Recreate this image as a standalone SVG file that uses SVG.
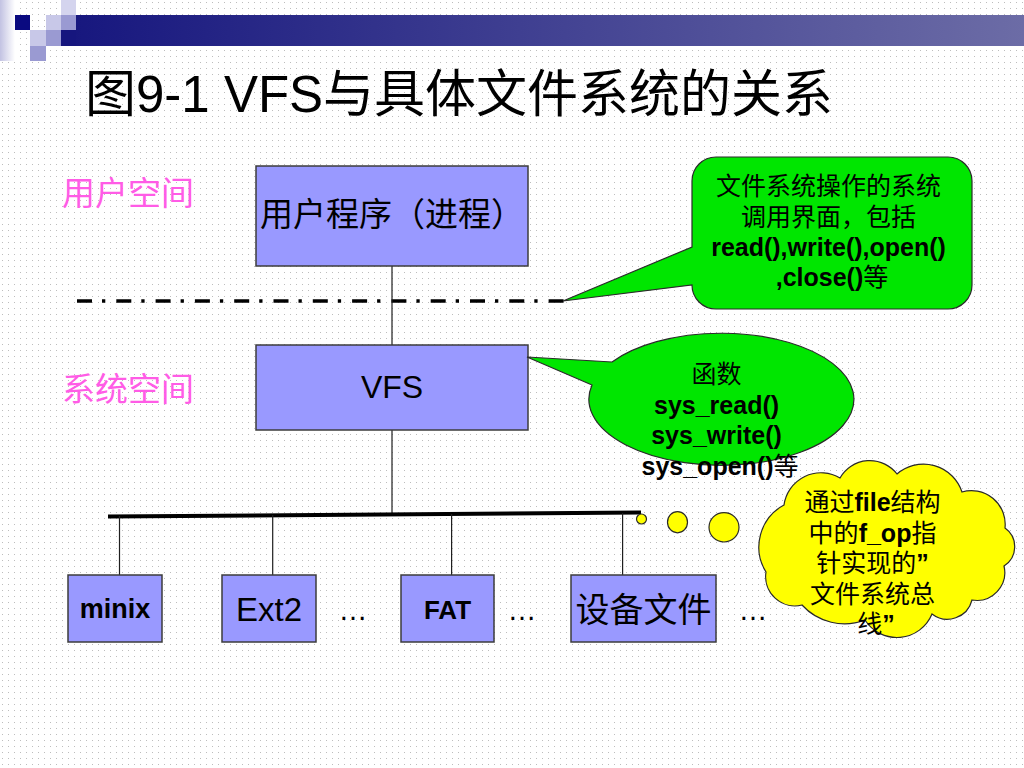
<svg xmlns="http://www.w3.org/2000/svg" width="1024" height="768" viewBox="0 0 1024 768">
<defs>
  <pattern id="dots" width="6" height="6" patternUnits="userSpaceOnUse">
    <rect x="2" y="2" width="1" height="1" fill="#bdbdbd"/>
  </pattern>
  <linearGradient id="barGrad" gradientUnits="userSpaceOnUse" x1="61" y1="0" x2="1024" y2="0">
    <stop offset="0" stop-color="#16167e"/>
    <stop offset="1" stop-color="#6c6ca6"/>
  </linearGradient>
  <linearGradient id="stripGrad" x1="0" y1="0" x2="1" y2="0">
    <stop offset="0" stop-color="#c2c2e2"/>
    <stop offset="1" stop-color="#ffffff"/>
  </linearGradient>
  <style>
    .box{fill:#9999ff;stroke:#3c3c3c;stroke-width:1.5}
    .callout{stroke:#2a2a2a;stroke-width:1.2}
    .green{fill:#00e600}
    .yellow{fill:#ffff00}
    .t{font-family:'Liberation Sans','Noto Sans CJK SC',sans-serif;fill:#000}
    .b{font-weight:bold}
    .pink{fill:#ff5ce6;font-size:33px}
    .wire{stroke:#1e1e1e;stroke-width:1.2;fill:none}
    .mid{text-anchor:middle}
  </style>
</defs>

<!-- background -->
<rect x="0" y="0" width="1024" height="768" fill="#ffffff"/>
<rect x="0" y="0" width="1024" height="768" fill="url(#dots)"/>

<!-- top-left decoration -->
<g id="decoration">
  <rect x="0" y="0" width="15" height="61" fill="url(#stripGrad)"/>
  <rect x="76" y="15" width="948" height="31" fill="url(#barGrad)"/>
  <rect x="61" y="30" width="15" height="16" fill="#16167e"/>
  <rect x="15" y="15" width="15" height="15" fill="#0a0a80"/>
  <rect x="46" y="15" width="15" height="15" fill="#c8c8e8"/>
  <rect x="61" y="0" width="15" height="15" fill="#d4d4ee"/>
  <rect x="61" y="15" width="15" height="15" fill="#9a9ad2"/>
  <rect x="30" y="30" width="16" height="16" fill="#c8c8e8"/>
  <rect x="46" y="30" width="15" height="16" fill="#9a9ad2"/>
  <rect x="30" y="46" width="16" height="15" fill="#9a9ad2"/>
</g>

<!-- title -->
<text id="title" class="t" x="85" y="112" font-size="51">图9-1 VFS与具体文件系统的关系</text>

<!-- side labels -->
<text id="label-user" class="t pink" x="62" y="205" style="fill:#ff5ce6">用户空间</text>
<text id="label-sys" class="t pink" x="62" y="401" style="fill:#ff5ce6">系统空间</text>

<!-- separator -->
<g id="separator">
  <line x1="77" y1="301" x2="565" y2="301" stroke="#000" stroke-width="3.3" stroke-dasharray="15 10 3.3 11"/>
</g>

<!-- connectors -->
<g id="connectors">
  <line class="wire" x1="392" y1="266" x2="392" y2="345"/>
  <line class="wire" x1="392" y1="430" x2="392" y2="514"/>
  <line x1="108" y1="516.5" x2="641" y2="512.5" stroke="#000" stroke-width="4"/>
  <line class="wire" x1="119.5" y1="516" x2="119.5" y2="575"/>
  <line class="wire" x1="272.7" y1="515" x2="272.7" y2="575"/>
  <line class="wire" x1="451.6" y1="514" x2="451.6" y2="575"/>
  <line class="wire" x1="622.6" y1="513" x2="622.6" y2="575"/>
</g>

<!-- nodes -->
<g id="node-user-program">
  <rect class="box" x="256" y="166" width="272" height="100"/>
  <text class="t mid" x="392" y="226" font-size="33">用户程序（进程）</text>
</g>

<g id="node-vfs">
  <rect class="box" x="256" y="345" width="272" height="85"/>
  <text class="t mid" x="392" y="398" font-size="32">VFS</text>
</g>

<g id="node-minix">
  <rect class="box" x="68" y="575" width="94" height="67"/>
  <text class="t b mid" x="115" y="618" font-size="27">minix</text>
</g>

<g id="node-ext2">
  <rect class="box" x="222" y="575" width="94" height="67"/>
  <text class="t mid" x="269" y="621" font-size="33">Ext2</text>
</g>

<g id="node-fat">
  <rect class="box" x="401" y="575" width="93" height="67"/>
  <text class="t b mid" x="447.5" y="619" font-size="26">FAT</text>
</g>

<g id="node-device">
  <rect class="box" x="571" y="575" width="145" height="67"/>
  <text class="t mid" x="643.5" y="622" font-size="34">设备文件</text>
</g>

<g id="ellipses">
  <text class="t mid" x="353" y="620" font-size="29">…</text>
  <text class="t mid" x="522" y="620" font-size="29">…</text>
  <text class="t mid" x="753" y="620" font-size="29">…</text>
</g>

<!-- callout 1 -->
<g id="callout-syscall">
  <path class="callout green" d="M716,157 H948 A24,24 0 0 1 972,181 V285 A24,24 0 0 1 948,309 H716 A24,24 0 0 1 692,285 L563,301 L692,247 V181 A24,24 0 0 1 716,157 Z"/>
  <text class="t mid" font-size="25">
    <tspan x="832" y="195">文件系统操作的系统</tspan>
    <tspan x="832" y="225.5">调用界面，包括</tspan>
    <tspan x="832" y="256" class="b">read(),write(),open()</tspan>
    <tspan x="832" y="286"><tspan class="b">,close()</tspan>等</tspan>
  </text>
</g>

<!-- callout 2 -->
<g id="callout-sysfunc">
  <path class="callout green" d="M612,362 L527,357 L592,385 A132.5,66 0 1 0 612,362 Z"/>
  <text class="t mid" font-size="25">
    <tspan x="720" y="383">函数</tspan>
    <tspan x="720" y="413.5" class="b">sys_read()</tspan>
    <tspan x="720" y="444" class="b">sys_write()</tspan>
    <tspan x="720" y="474.5"><tspan class="b">sys_open()</tspan>等</tspan>
  </text>
</g>

<!-- cloud callout -->
<g id="callout-cloud">
  <circle class="callout yellow" cx="641.5" cy="519" r="5"/>
  <ellipse class="callout yellow" cx="677.5" cy="522.2" rx="10" ry="10.6"/>
  <ellipse class="callout yellow" cx="724" cy="527.3" rx="15" ry="14.7"/>
  <path class="callout yellow" d="M784,505 A37.3,37.3 0 0 1 840,478 A34.3,34.3 0 0 1 897,474 A40.5,40.5 0 0 1 962,492 A33.7,33.7 0 0 1 1005,528 A22.8,22.8 0 0 1 1004,566 A28,28 0 0 1 972,600 A25.4,25.4 0 0 1 932,614 A37.9,37.9 0 0 1 865,620 A57.5,57.5 0 0 1 802,605 A29.3,29.3 0 0 1 766,572 A47.6,47.6 0 0 1 784,505 Z"/>
  <text class="t mid" font-size="25">
    <tspan x="876" y="511">通过<tspan class="b">file</tspan>结构</tspan>
    <tspan x="876" y="541.5">中的<tspan class="b">f_op</tspan>指</tspan>
    <tspan x="876" y="572">针实现的<tspan class="b">”</tspan></tspan>
    <tspan x="876" y="602.5">文件系统总</tspan>
    <tspan x="876" y="633">线<tspan class="b">”</tspan></tspan>
  </text>
</g>
</svg>
